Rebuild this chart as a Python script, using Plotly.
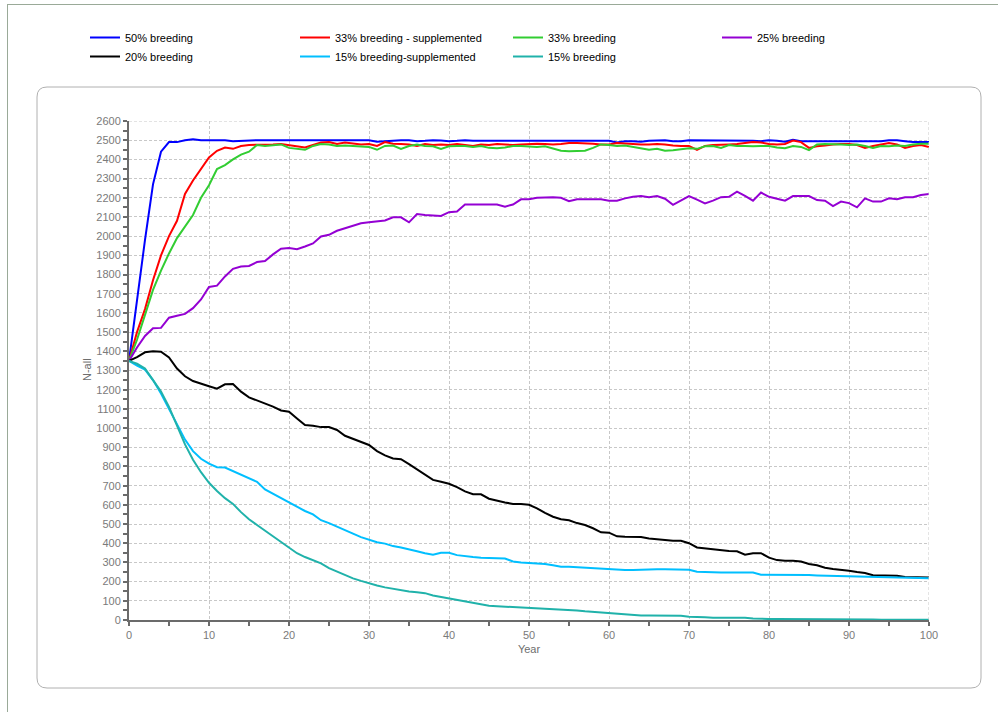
import plotly.graph_objects as go

# Simulated population size (N-all) per year under different breeding scenarios
years = list(range(0, 101))

breeding_50 = [
    1350, 1670, 1980, 2270, 2440, 2490, 2490, 2500, 2505, 2500,
    2500, 2497, 2500, 2495, 2497, 2500, 2500, 2500, 2500, 2500,
    2500, 2500, 2500, 2498, 2498, 2500, 2500, 2497, 2497, 2500,
    2500, 2492, 2495, 2500, 2500, 2500, 2495, 2497, 2500, 2498,
    2495, 2497, 2500, 2497, 2497, 2500, 2500, 2497, 2497, 2500,
    2500, 2500, 2500, 2500, 2500, 2500, 2500, 2500, 2497, 2497,
    2497, 2488, 2495, 2495, 2492, 2497, 2500, 2500, 2495, 2495,
    2500, 2500, 2500, 2500, 2500, 2497, 2497, 2500, 2497, 2495,
    2500, 2497, 2492, 2502, 2495, 2495, 2495, 2495, 2495, 2495,
    2495, 2497, 2497, 2495, 2495, 2500, 2500, 2495, 2490, 2490, 2490,
]

breeding_33_supp = [
    1350, 1500, 1620, 1770, 1900, 2000, 2080, 2220, 2290, 2350,
    2410, 2445, 2462, 2455, 2470, 2475, 2475, 2475, 2478, 2480,
    2475, 2468, 2462, 2475, 2488, 2490, 2480, 2488, 2482, 2478,
    2480, 2470, 2490, 2482, 2480, 2478, 2470, 2480, 2475, 2478,
    2475, 2480, 2475, 2470, 2478, 2475, 2480, 2478, 2475, 2478,
    2480, 2482, 2480, 2478, 2480, 2485, 2485, 2485, 2482, 2478,
    2478, 2485, 2482, 2480, 2478, 2478, 2480, 2478, 2472, 2470,
    2470, 2450, 2470, 2475, 2478, 2478, 2480, 2485, 2490, 2488,
    2480, 2478, 2480, 2498, 2490, 2460, 2468, 2472, 2478, 2480,
    2480, 2475, 2460, 2470, 2478, 2485, 2478, 2460, 2470, 2475, 2465,
]

breeding_33 = [
    1350, 1460, 1590, 1720, 1820, 1910, 1990, 2050, 2110, 2200,
    2265, 2350, 2370, 2400, 2425, 2440, 2475, 2470, 2475, 2478,
    2460, 2455, 2450, 2470, 2480, 2478, 2470, 2472, 2470, 2470,
    2465, 2450, 2470, 2472, 2455, 2470, 2478, 2470, 2468, 2455,
    2468, 2470, 2470, 2465, 2470, 2460, 2458, 2462, 2470, 2470,
    2468, 2465, 2468, 2455, 2445, 2442, 2442, 2445, 2460, 2478,
    2475, 2470, 2472, 2465, 2460, 2450, 2455, 2445, 2448, 2455,
    2458, 2455, 2468, 2470, 2460, 2475, 2470, 2470, 2468, 2470,
    2470, 2462, 2458, 2470, 2465, 2448, 2478, 2480, 2480, 2478,
    2475, 2478, 2470, 2460, 2470, 2468, 2472, 2470, 2478, 2482, 2482,
]

breeding_25 = [
    1350, 1420, 1480, 1520, 1522, 1575, 1585, 1595, 1625, 1670,
    1735, 1742, 1790, 1830, 1842, 1845, 1865, 1870, 1905, 1935,
    1938, 1932, 1946, 1962, 1998, 2007, 2028, 2042, 2052, 2067,
    2072, 2078, 2082, 2098, 2098, 2072, 2115, 2110, 2108, 2105,
    2125, 2128, 2165, 2165, 2162, 2162, 2165, 2154, 2165, 2192,
    2192, 2200, 2203, 2203, 2200, 2182, 2192, 2192, 2192, 2192,
    2185, 2185, 2197, 2205, 2209, 2203, 2209, 2195, 2163, 2185,
    2209, 2190, 2171, 2185, 2203, 2205, 2232, 2210, 2185, 2227,
    2205, 2195, 2185, 2209, 2209, 2209, 2188, 2185, 2157, 2180,
    2172, 2150, 2197, 2180, 2180, 2197, 2192, 2203, 2203, 2214, 2220,
]

breeding_20 = [
    1350, 1370, 1395, 1400, 1398, 1368, 1310, 1270, 1245, 1230,
    1218, 1205, 1228, 1230, 1190, 1160, 1145, 1130, 1112, 1092,
    1085, 1050, 1016, 1012, 1005, 1005, 990, 960, 945, 930,
    912, 880, 858, 842, 838, 812, 785, 755, 730, 720,
    710, 692, 670, 655, 655, 632, 620, 612, 605, 605,
    600, 582, 558, 538, 525, 520, 505, 495, 478, 457,
    455, 436, 434, 434, 432, 425, 420, 415, 413, 413,
    400, 378, 373, 371, 365, 360, 358, 340, 348, 348,
    325, 312, 309, 309, 305, 292, 285, 272, 266, 262,
    257, 250, 245, 233, 233, 232, 230, 224, 224, 224, 222,
]

breeding_15_supp = [
    1350, 1325, 1305, 1250, 1180, 1100, 1020, 940, 880, 840,
    815, 796, 794, 775, 755, 738, 720, 680, 658, 635,
    610, 590, 568, 550, 520, 505, 488, 470, 450, 432,
    420, 405, 398, 385, 378, 370, 358, 348, 340, 350,
    350, 338, 332, 328, 325, 325, 322, 320, 305, 300,
    298, 297, 292, 285, 278, 278, 275, 274, 273, 270,
    265, 261, 260, 260, 262, 264, 264, 264, 264, 264,
    262, 252, 250, 247, 247, 248, 248, 247, 247, 236,
    236, 236, 236, 236, 236, 234, 232, 231, 229, 226,
    225, 224, 224, 223, 223, 222, 222, 220, 219, 218, 217,
]

breeding_15 = [
    1350, 1335, 1310, 1250, 1190, 1110, 1010, 915, 835, 770,
    715, 672, 635, 605, 562, 525, 495, 465, 438, 405,
    374, 348, 328, 312, 295, 270, 252, 235, 217, 204,
    191, 180, 170, 162, 155, 148, 144, 140, 128, 120,
    113, 104, 95, 88, 80, 74, 72, 70, 68, 64,
    61, 60, 58, 56, 54, 52, 49, 45, 42, 36,
    34, 32, 30, 27, 24, 23, 23, 23, 23, 22,
    17, 17, 14, 12, 12, 12, 12, 12, 8, 5,
    5, 5, 5, 5, 5, 4, 2, 2, 2, 2,
    2, 2, 2, 2, 1, 1, 1, 1, 1, 1, 1,
]

series_names = [
    "50% breeding", "33% breeding - supplemented", "33% breeding", "25% breeding",
    "20% breeding", "15% breeding-supplemented", "15% breeding",
]
series_values = [
    breeding_50, breeding_33_supp, breeding_33, breeding_25,
    breeding_20, breeding_15_supp, breeding_15,
]
series_colors = [
    "#0000FF", "#FF0000", "#32CD32", "#9400D3",
    "#000000", "#00BFFF", "#20B2AA",
]
# legend column for each series (four columns, two rows)
legend_ids = ["legend", "legend2", "legend3", "legend4",
              "legend", "legend2", "legend3"]

W, H = 998, 712
L, R, T, B = 129, 929, 121, 620  # plot area in pixels

fig = go.Figure()
for name, vals, col, lg in zip(series_names, series_values, series_colors, legend_ids):
    fig.add_trace(go.Scatter(
        x=years, y=vals, mode="lines", name=name, legend=lg,
        line=dict(color=col, width=2),
    ))


def px_x(p):
    return (p - L) / (R - L)


def px_y(p):
    return (B - p) / (B - T)


# Rounded frame around the chart area
x0, y0, x1, y1, r = 37, 87, 981, 688, 10
X0, X1 = px_x(x0), px_x(x1)
Y0, Y1 = px_y(y0), px_y(y1)
rx = r / (R - L)
ry = r / (B - T)
frame_path = (
    f"M {X0 + rx},{Y0} L {X1 - rx},{Y0} Q {X1},{Y0} {X1},{Y0 - ry} "
    f"L {X1},{Y1 + ry} Q {X1},{Y1} {X1 - rx},{Y1} "
    f"L {X0 + rx},{Y1} Q {X0},{Y1} {X0},{Y1 + ry} "
    f"L {X0},{Y0 - ry} Q {X0},{Y0} {X0 + rx},{Y0} Z"
)
shapes = [
    dict(type="path", xref="paper", yref="paper", path=frame_path,
         line=dict(color="#b0b0b0", width=1), layer="below"),
    # outer page border (top and left)
    dict(type="line", xref="paper", yref="paper",
         x0=px_x(7), x1=px_x(998), y0=px_y(4.5), y1=px_y(4.5),
         line=dict(color="#9aaa98", width=1)),
    dict(type="line", xref="paper", yref="paper",
         x0=px_x(7.5), x1=px_x(7.5), y0=px_y(4), y1=px_y(712),
         line=dict(color="#9aaa98", width=1)),
]

font_family = "Liberation Sans, Arial, sans-serif"
grid_color = "#c8c8c8"
axis_color = "#6b6b6b"
title_color = "#6e6e6e"
tick_font = dict(family=font_family, size=11, color="#7a7a7a")


def legend_at(px_left):
    return dict(
        orientation="v", xref="container", yref="container",
        x=px_left / W, y=1 - 23 / H, xanchor="left", yanchor="top",
        font=dict(family=font_family, size=11, color="#000000"),
        tracegroupgap=0, itemwidth=30, bgcolor="rgba(0,0,0,0)",
        traceorder="normal",
    )


fig.update_layout(
    width=W, height=H,
    margin=dict(l=L, r=W - R, t=T, b=H - B, pad=0, autoexpand=False),
    paper_bgcolor="white", plot_bgcolor="white",
    font=dict(family=font_family, size=11, color="#333333"),
    shapes=shapes,
    showlegend=True,
    legend=legend_at(85),
    legend2=legend_at(295),
    legend3=legend_at(508),
    legend4=legend_at(717),
    xaxis=dict(
        range=[0, 100], tick0=0, dtick=10,
        showgrid=True, gridcolor=grid_color, griddash="3px,2px", gridwidth=1,
        showline=True, linecolor=axis_color, linewidth=2,
        ticks="outside", ticklen=4, tickwidth=2, tickcolor=axis_color,
        minor=dict(dtick=5, ticks="outside", ticklen=4, tickwidth=2,
                   tickcolor=axis_color, showgrid=False),
        tickfont=tick_font, zeroline=False,
        title=dict(text="Year", font=dict(family=font_family, size=11, color=title_color),
                   standoff=5),
        mirror=False,
    ),
    yaxis=dict(
        range=[0, 2600], tick0=0, dtick=100,
        showgrid=True, gridcolor=grid_color, griddash="3px,2px", gridwidth=1,
        showline=True, linecolor=axis_color, linewidth=2,
        ticks="outside", ticklen=4, tickwidth=2, tickcolor=axis_color,
        minor=dict(dtick=50, ticks="outside", ticklen=4, tickwidth=2,
                   tickcolor=axis_color, showgrid=False),
        tickfont=tick_font, zeroline=False,
    ),
    annotations=[
        dict(text="N-all", xref="paper", yref="paper",
             x=px_x(87), y=px_y(370), xanchor="center", yanchor="middle",
             textangle=-90, showarrow=False,
             font=dict(family=font_family, size=11, color=title_color)),
    ],
)

# dashed border along the top and right of the plot area
fig.add_shape(type="line", xref="x", yref="y", x0=0, x1=100, y0=2600, y1=2600,
              line=dict(color=grid_color, width=1, dash="3px,2px"))
fig.add_shape(type="line", xref="x", yref="y", x0=100, x1=100, y0=0, y1=2600,
              line=dict(color=grid_color, width=1, dash="3px,2px"))

fig.write_html("out.html")
